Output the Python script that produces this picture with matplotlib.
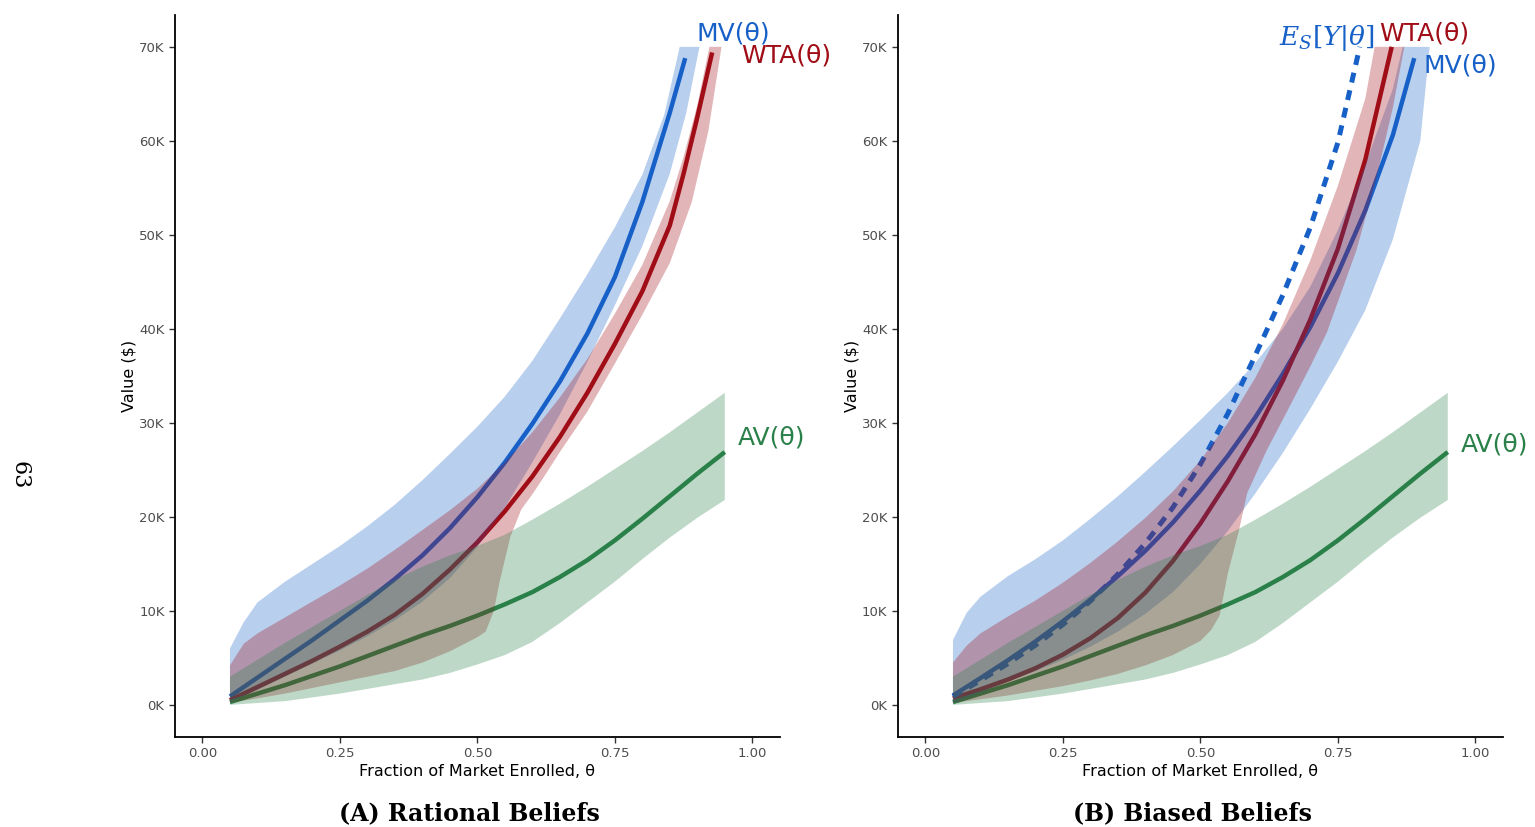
import numpy as np
import matplotlib
matplotlib.use("Agg")
import matplotlib.pyplot as plt

# cores das curvas
COR_MV = "#1760C8"
COR_WTA = "#A00D16"
COR_AV = "#2A8049"

# ---------------- dados painel A (valores em milhares de $) ----------------
th_mv_a = [0.05, 0.10, 0.15, 0.20, 0.25, 0.30, 0.35, 0.40, 0.45, 0.50, 0.55, 0.60, 0.65, 0.70, 0.75, 0.80, 0.85, 0.878]
mv_a = [0.9, 2.9, 4.9, 6.9, 9.0, 11.1, 13.4, 15.9, 18.8, 22.1, 25.8, 29.9, 34.4, 39.5, 45.5, 53.5, 63.0, 68.8]

th_wta_a = [0.05, 0.10, 0.15, 0.20, 0.25, 0.30, 0.35, 0.40, 0.45, 0.50, 0.55, 0.60, 0.65, 0.70, 0.75, 0.80, 0.85, 0.875, 0.90, 0.927]
wta_a = [0.5, 1.9, 3.3, 4.7, 6.2, 7.8, 9.6, 11.8, 14.4, 17.3, 20.6, 24.3, 28.5, 33.2, 38.4, 44.0, 51.0, 56.5, 62.5, 69.4]

th_av = [0.05, 0.10, 0.15, 0.20, 0.25, 0.30, 0.35, 0.40, 0.45, 0.50, 0.55, 0.60, 0.65, 0.70, 0.75, 0.80, 0.85, 0.90, 0.95]
av = [0.3, 1.2, 2.1, 3.1, 4.1, 5.2, 6.3, 7.4, 8.4, 9.5, 10.7, 12.0, 13.6, 15.4, 17.5, 19.8, 22.2, 24.6, 26.9]
av_sup = [3.0, 4.8, 6.6, 8.3, 10.0, 11.7, 13.3, 14.7, 15.9, 16.9, 18.1, 19.7, 21.4, 23.2, 25.1, 27.0, 29.0, 31.1, 33.2]
av_inf = [0.0, 0.2, 0.4, 0.8, 1.2, 1.7, 2.2, 2.7, 3.4, 4.3, 5.3, 6.7, 8.7, 10.9, 13.1, 15.5, 17.8, 19.9, 21.8]

# faixas MV (A)
th_mv_sup_a = [0.05, 0.075, 0.10, 0.15, 0.20, 0.25, 0.30, 0.35, 0.40, 0.45, 0.50, 0.55, 0.60, 0.65, 0.70, 0.75, 0.80, 0.84, 0.868, 0.904]
mv_sup_a = [6.0, 8.8, 10.9, 13.1, 15.0, 16.9, 19.0, 21.3, 23.9, 26.7, 29.6, 32.8, 36.6, 41.1, 45.8, 50.8, 56.4, 62.8, 70.0, 70.0]
th_mv_inf_a = [0.05, 0.10, 0.15, 0.20, 0.25, 0.30, 0.35, 0.40, 0.45, 0.50, 0.55, 0.60, 0.65, 0.70, 0.75, 0.80, 0.85, 0.88, 0.904]
mv_inf_a = [0.3, 1.6, 3.0, 4.4, 5.8, 7.3, 9.0, 11.0, 13.5, 16.8, 21.0, 25.8, 30.9, 36.5, 42.5, 48.8, 56.5, 63.0, 70.0]

# faixas WTA (A)
th_wta_sup_a = [0.05, 0.075, 0.10, 0.15, 0.20, 0.25, 0.30, 0.35, 0.40, 0.45, 0.50, 0.55, 0.60, 0.65, 0.70, 0.75, 0.80, 0.85, 0.875, 0.90, 0.922, 0.944]
wta_sup_a = [4.2, 6.5, 7.6, 9.3, 11.0, 12.7, 14.5, 16.5, 18.6, 20.7, 23.0, 25.8, 29.0, 32.7, 36.8, 41.6, 46.8, 53.6, 58.3, 63.8, 70.0, 70.0]
th_wta_inf_a = [0.05, 0.10, 0.15, 0.20, 0.25, 0.30, 0.35, 0.40, 0.45, 0.50, 0.515, 0.53, 0.54, 0.56, 0.58, 0.60, 0.626, 0.65, 0.70, 0.75, 0.80, 0.85, 0.89, 0.92, 0.944]
wta_inf_a = [0.2, 0.7, 1.2, 1.8, 2.4, 3.0, 3.6, 4.5, 5.7, 7.2, 7.8, 10.0, 13.0, 17.9, 20.8, 22.4, 24.7, 26.9, 31.2, 36.3, 41.5, 47.0, 53.5, 61.0, 70.0]

# ---------------- dados painel B ----------------
th_mv_b = [0.05, 0.10, 0.15, 0.20, 0.25, 0.30, 0.35, 0.40, 0.45, 0.50, 0.55, 0.60, 0.65, 0.70, 0.75, 0.80, 0.85, 0.889]
mv_b = [1.0, 2.85, 4.75, 6.75, 8.9, 11.2, 13.7, 16.4, 19.4, 22.8, 26.5, 30.6, 35.2, 40.2, 45.9, 52.6, 60.6, 68.8]

th_wta_b = [0.05, 0.10, 0.15, 0.20, 0.25, 0.30, 0.35, 0.40, 0.45, 0.50, 0.55, 0.60, 0.65, 0.70, 0.75, 0.80, 0.848]
wta_b = [0.7, 1.65, 2.7, 3.9, 5.35, 7.1, 9.25, 11.95, 15.3, 19.3, 23.8, 28.8, 34.5, 41.0, 48.5, 58.0, 70.0]

th_es = [0.05, 0.10, 0.15, 0.20, 0.25, 0.30, 0.35, 0.40, 0.45, 0.50, 0.55, 0.60, 0.65, 0.70, 0.75, 0.79]
es = [0.9, 2.6, 4.4, 6.35, 8.55, 11.05, 13.9, 17.2, 21.0, 25.6, 31.0, 37.2, 43.6, 50.8, 59.8, 70.0]

# faixas MV (B)
th_mv_sup_b = [0.05, 0.075, 0.10, 0.15, 0.20, 0.25, 0.30, 0.35, 0.40, 0.45, 0.50, 0.55, 0.60, 0.65, 0.70, 0.75, 0.80, 0.85, 0.868, 0.917]
mv_sup_b = [6.9, 9.8, 11.5, 13.7, 15.5, 17.5, 19.8, 22.2, 24.8, 27.5, 30.3, 33.2, 36.4, 40.0, 44.5, 50.5, 57.5, 65.5, 70.0, 70.0]
th_mv_inf_b = [0.05, 0.10, 0.15, 0.20, 0.25, 0.30, 0.35, 0.40, 0.45, 0.50, 0.55, 0.60, 0.65, 0.70, 0.75, 0.80, 0.85, 0.90, 0.917]
mv_inf_b = [0.2, 1.3, 2.5, 3.6, 4.8, 6.2, 7.8, 9.7, 12.0, 15.0, 18.5, 22.5, 26.8, 31.5, 36.5, 42.0, 49.5, 60.0, 70.0]

# faixas WTA (B)
th_wta_sup_b = [0.05, 0.075, 0.10, 0.15, 0.20, 0.25, 0.30, 0.35, 0.40, 0.45, 0.50, 0.55, 0.60, 0.65, 0.70, 0.75, 0.80, 0.817, 0.871]
wta_sup_b = [4.5, 6.3, 7.6, 9.4, 11.1, 13.0, 15.1, 17.4, 19.9, 22.7, 26.0, 30.0, 34.8, 40.5, 47.3, 55.2, 64.5, 70.0, 70.0]
th_wta_inf_b = [0.05, 0.10, 0.15, 0.20, 0.25, 0.30, 0.35, 0.40, 0.45, 0.50, 0.52, 0.535, 0.55, 0.57, 0.585, 0.62, 0.662, 0.70, 0.73, 0.784, 0.82, 0.85, 0.871]
wta_inf_b = [0.2, 0.6, 1.0, 1.5, 2.0, 2.6, 3.3, 4.2, 5.3, 6.8, 8.0, 9.5, 14.0, 18.5, 22.5, 27.0, 31.7, 36.0, 39.6, 48.4, 56.0, 63.5, 70.0]

x_ticks = [0.0, 0.25, 0.5, 0.75, 1.0]
x_tick_labels = ["0.00", "0.25", "0.50", "0.75", "1.00"]
y_ticks = [0, 10, 20, 30, 40, 50, 60, 70]
y_tick_labels = ["0K", "10K", "20K", "30K", "40K", "50K", "60K", "70K"]


def faixa(ax, th_sup, sup, th_inf, inf, cor):
    xs = np.r_[th_sup, th_inf[::-1]]
    ys = np.r_[sup, inf[::-1]]
    ax.fill(xs, ys, color=cor, alpha=0.3, lw=0, zorder=3)


def estilo(ax):
    ax.set_xlim(-0.05, 1.05)
    ax.set_ylim(-3.4, 73.4)
    ax.set_xticks(x_ticks)
    ax.set_xticklabels(x_tick_labels)
    ax.set_yticks(y_ticks)
    ax.set_yticklabels(y_tick_labels)
    ax.tick_params(colors="#333333", labelsize=9.5, length=4, width=1.0, labelcolor="#4d4d4d")
    for s in ["top", "right"]:
        ax.spines[s].set_visible(False)
    for s in ["left", "bottom"]:
        ax.spines[s].set_linewidth(1.3)
    ax.set_xlabel("Fraction of Market Enrolled, θ", fontsize=11.5, labelpad=3)
    ax.set_ylabel("Value ($)", fontsize=11.5, labelpad=2)


fig = plt.figure(figsize=(15.35, 8.27), dpi=100)
ax_a = fig.add_axes([0.114, 0.109, 0.394, 0.873])
ax_b = fig.add_axes([0.585, 0.109, 0.394, 0.873])

lw = 3.2
rotulo = 18

# painel A: linhas primeiro, faixas por cima
ax_a.plot(th_mv_a, mv_a, color=COR_MV, lw=lw, zorder=2, solid_capstyle="butt")
ax_a.plot(th_wta_a, wta_a, color=COR_WTA, lw=lw, zorder=2, solid_capstyle="butt")
ax_a.plot(th_av, av, color=COR_AV, lw=lw, zorder=2, solid_capstyle="butt")
faixa(ax_a, th_mv_sup_a, mv_sup_a, th_mv_inf_a, mv_inf_a, COR_MV)
faixa(ax_a, th_wta_sup_a, wta_sup_a, th_wta_inf_a, wta_inf_a, COR_WTA)
faixa(ax_a, th_av, av_sup, th_av, av_inf, COR_AV)
estilo(ax_a)
ax_a.text(0.898, 71.4, "MV(θ)", color=COR_MV, fontsize=rotulo, va="center", ha="left")
ax_a.text(0.980, 69.1, "WTA(θ)", color=COR_WTA, fontsize=rotulo, va="center", ha="left")
ax_a.text(0.973, 28.4, "AV(θ)", color=COR_AV, fontsize=rotulo, va="center", ha="left")

# painel B
ax_b.plot(th_mv_b, mv_b, color=COR_MV, lw=lw, zorder=2, solid_capstyle="butt")
ax_b.plot(th_wta_b, wta_b, color=COR_WTA, lw=lw, zorder=2, solid_capstyle="butt")
ax_b.plot(th_av, av, color=COR_AV, lw=lw, zorder=2, solid_capstyle="butt")
ax_b.plot(th_es, es, color=COR_MV, lw=3.6, zorder=2, linestyle=(0, (2.0, 1.6)), dash_capstyle="butt")
faixa(ax_b, th_mv_sup_b, mv_sup_b, th_mv_inf_b, mv_inf_b, COR_MV)
faixa(ax_b, th_wta_sup_b, wta_sup_b, th_wta_inf_b, wta_inf_b, COR_WTA)
faixa(ax_b, th_av, av_sup, th_av, av_inf, COR_AV)
estilo(ax_b)
ax_b.text(0.817, 70.9, r"$E_S[Y|\theta]$", color=COR_MV, fontsize=19, va="center", ha="right",
          math_fontfamily="dejavuserif")
ax_b.text(0.826, 71.4, "WTA(θ)", color=COR_WTA, fontsize=rotulo, va="center", ha="left")
ax_b.text(0.906, 68.0, "MV(θ)", color=COR_MV, fontsize=rotulo, va="center", ha="left")
ax_b.text(0.973, 27.7, "AV(θ)", color=COR_AV, fontsize=rotulo, va="center", ha="left")

# legendas dos paineis
fig.text(0.306, 0.017, "(A) Rational Beliefs", fontsize=17, fontweight="bold", family="DejaVu Serif",
         ha="center", va="center")
fig.text(0.777, 0.017, "(B) Biased Beliefs", fontsize=17, fontweight="bold", family="DejaVu Serif",
         ha="center", va="center")

# numero da pagina
fig.text(0.013, 0.425, "63", fontsize=16, family="DejaVu Serif", rotation=-90, ha="center", va="center")

fig.savefig("out.png", dpi=100)
